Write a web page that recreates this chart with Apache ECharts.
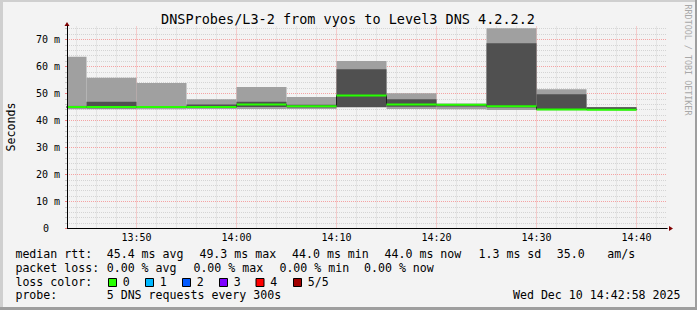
<!DOCTYPE html>
<html><head><meta charset="utf-8">
<script src="https://cdn.jsdelivr.net/npm/echarts@6/dist/echarts.min.js"></script>
<style>html,body{margin:0;padding:0;background:#f3f3f3}#c{width:697px;height:310px}</style>
</head><body><div id="c"></div>
<script>
// ---------------- data ----------------
const chartTitle = 'DNSProbes/L3-2 from vyos to Level3 DNS 4.2.2.2';
const yAxisName = 'Seconds';
const watermark = 'RRDTOOL / TOBI OETIKER';
const viewStart = '13:43:03';
const viewEnd = '14:43:03';
const stepMinutes = 5;
const barEnds = ['13:45','13:50','13:55','14:00','14:05','14:10','14:15','14:20','14:25','14:30','14:35','14:40'];
const pingMin = [44.2, 44.2, 44.2, 44.3, 44.3, 44.3, 44.8, 44.3, 44.2, 43.9, 43.8, 43.8];
const ping2   = [44.6, 44.5, 44.6, 44.7, 45.0, 44.8, 45.0, 45.1, 45.2, 44.8, 43.9, 43.9];
const median  = [45.0, 45.0, 45.0, 45.0, 45.9, 45.3, 49.3, 45.9, 45.8, 45.3, 44.1, 44.0];
const ping4   = [45.4, 46.9, 45.4, 45.9, 46.9, 45.8, 59.0, 47.9, 46.0, 68.6, 49.7, 44.9];
const pingMax = [63.6, 55.8, 53.9, 47.9, 52.4, 48.7, 62.0, 50.1, 46.3, 74.2, 51.6, 45.0];
const xTickLabels = ['13:50','14:00','14:10','14:20','14:30','14:40'];
const yTickValues = [0, 10, 20, 30, 40, 50, 60, 70];
const yMax = 75;
const rttLabel = 'median rtt:';
const rttStats = ['45.4 ms avg','49.3 ms max','44.0 ms min','44.0 ms now','1.3 ms sd','35.0','am/s'];
const lossLabel = 'packet loss:';
const lossStats = ['0.00 % avg','0.00 % max','0.00 % min','0.00 % now'];
const lossColorLabel = 'loss color:';
const lossNames = ['0','1','2','3','4','5/5'];
const lossColors = ['#26ff00','#00b8ff','#0059ff','#7e00ff','#ff0000','#a10000'];
const probeLabel = 'probe:';
const probeText = '5 DNS requests every 300s';
const dateText = 'Wed Dec 10 14:42:58 2025';

// ---------------- layout / style ----------------
const MONO = "'DejaVu Sans Mono', monospace";
const BG = '#f3f3f3';
const rttX = [106.7, 199.4, 292.0, 384.5, 478.5, 556.7, 607.2];
const lossX = [106.7, 193.4, 279.4, 364.0];
const boxX = [108.5, 145.5, 182.5, 219.5, 256.0, 293.5];
const rowY = [254.3, 267.7, 281.7, 295.3];

const toMin = s => { const p = s.split(':').map(Number); return (p[0]-13)*60 + p[1] + (p[2]||0)/60; };
const ends = barEnds.map(toMin);
const starts = ends.map(e => e - stepMinutes);
const X0 = toMin(viewStart), X1 = toMin(viewEnd);
const xTickMinutes = xTickLabels.map(toMin);
const lightData = ends.map((e,i) => [starts[i], e, pingMin[i], pingMax[i]]);
const darkData = ends.map((e,i) => [starts[i], e, ping2[i], ping4[i]]);
const medBand = ends.map((e,i) => [starts[i], e, median[i]]);
const medLine = [[starts[0], median[0]]].concat(ends.map((e,i) => [e, median[i]]));

const xMinor = [], xMajor = [], yMinor = [], yMajor = [];
for (let v = Math.ceil(X0/2)*2; v < X1; v += 2) (v % 10 === 0 ? xMajor : xMinor).push(v);
for (let v = 2; v < yMax; v += 2) (v % 10 === 0 ? yMajor : yMinor).push(v);

function rectItem(params, api) {
  const a = api.coord([api.value(0), api.value(3)]);
  const b = api.coord([api.value(1), api.value(2)]);
  const cs = params.coordSys;
  const shape = echarts.graphic.clipRectByRect(
    {x: a[0], y: a[1], width: b[0]-a[0], height: b[1]-a[1]},
    {x: cs.x, y: cs.y, width: cs.width, height: cs.height});
  return shape && {type: 'rect', shape: shape, style: {fill: api.visual('color')}};
}
function bandItem(params, api) {
  const a = api.coord([api.value(0), api.value(2)]);
  const b = api.coord([api.value(1), api.value(2)]);
  const cs = params.coordSys;
  const shape = echarts.graphic.clipRectByRect(
    {x: a[0], y: a[1]-1, width: b[0]-a[0], height: 2},
    {x: cs.x, y: cs.y, width: cs.width, height: cs.height});
  return shape && {type: 'rect', shape: shape, style: {fill: api.visual('color')}};
}
function gridLines(xs, ys, color, z) {
  return {
    type: 'line', data: [], z: z, zlevel: 0, silent: true,
    markLine: {
      silent: true, symbol: 'none', animation: false, label: {show: false}, z: z,
      lineStyle: {color: color, width: 1, type: [1, 1]},
      emphasis: {disabled: true},
      data: xs.map(v => ({xAxis: v})).concat(ys.map(v => ({yAxis: v})))
    }
  };
}
const txt = (text, x, y, extra) => ({
  type: 'text', x: x, y: y, silent: true, z: 100,
  style: Object.assign({text: text, fontFamily: MONO, fontSize: 11.6, fill: '#000', align: 'left', verticalAlign: 'middle'}, extra || {})
});

const graphics = [
  {type: 'rect', shape: {x: 0, y: 0, width: 697, height: 2}, style: {fill: '#cfcfcf'}, silent: true},
  {type: 'rect', shape: {x: 0, y: 0, width: 3, height: 310}, style: {fill: '#cfcfcf'}, silent: true},
  {type: 'rect', shape: {x: 695, y: 0, width: 2, height: 310}, style: {fill: '#9e9e9e'}, silent: true},
  {type: 'rect', shape: {x: 0, y: 307, width: 697, height: 3}, style: {fill: '#9e9e9e'}, silent: true},
  txt(chartTitle, 348, 19, {fontSize: 13.5, align: 'center'}),
  Object.assign(txt(yAxisName, 10.8, 127, {align: 'center'}), {rotation: Math.PI/2}),
  Object.assign(txt(watermark, 688, 60, {align: 'center', fontSize: 8.4, fill: '#a8a8a8'}), {rotation: -Math.PI/2}),
  txt(rttLabel, 15.4, rowY[0]),
  txt(lossLabel, 15.4, rowY[1]),
  txt(lossColorLabel, 15.4, rowY[2]),
  txt(probeLabel, 15.4, rowY[3]),
  txt(probeText, 106.7, rowY[3]),
  txt(dateText, 680.5, rowY[3], {align: 'right'})
];
rttStats.forEach((s, i) => graphics.push(txt(s, rttX[i], rowY[0])));
lossStats.forEach((s, i) => graphics.push(txt(s, lossX[i], rowY[1])));
lossNames.forEach((s, i) => {
  graphics.push({type: 'rect', silent: true, z: 100, shape: {x: boxX[i], y: 278.5, width: 8, height: 8},
    style: {fill: lossColors[i], stroke: '#000', lineWidth: 1}});
  graphics.push(txt(s, boxX[i] + 14.3, rowY[2]));
});

const chart = echarts.init(document.getElementById('c'), null, {renderer: 'svg', width: 697, height: 310});
chart.setOption({
  animation: false,
  backgroundColor: BG,
  grid: {left: 67, top: 26, width: 600, height: 202.5, containLabel: false},
  xAxis: [
    {type: 'value', position: 'bottom', min: X0, max: X1, z: 40,
     axisLine: {show: true, onZero: false, lineStyle: {color: '#000', width: 1}},
     axisTick: {show: false}, splitLine: {show: false},
     axisLabel: {customValues: xTickMinutes, margin: 4, fontFamily: MONO, fontSize: 10, color: '#000',
       formatter: v => { const i = xTickMinutes.findIndex(m => Math.abs(m - v) < 1e-6); return i >= 0 ? xTickLabels[i] : ''; }}},
    {type: 'value', position: 'bottom', min: X0, max: X1, z: 39,
     axisLine: {show: true, onZero: false, symbol: ['none', 'triangle'], symbolSize: [5, 4], symbolOffset: [0, 4], lineStyle: {color: '#800000', width: 1}},
     axisTick: {show: false}, splitLine: {show: false}, axisLabel: {show: false}}
  ],
  yAxis: [
    {type: 'value', position: 'left', min: 0, max: yMax, z: 40,
     axisLine: {show: true, onZero: false, lineStyle: {color: '#000', width: 1}},
     axisTick: {show: true, customValues: yTickValues, length: 2, lineStyle: {color: '#f08080'}},
     splitLine: {show: false},
     axisLabel: {customValues: yTickValues, margin: 7, fontFamily: MONO, fontSize: 10, color: '#000',
       formatter: v => v === 0 ? '{z|0}' : v + ' m',
       rich: {z: {fontFamily: MONO, fontSize: 10, color: '#000', padding: [0, 11, 0, 0]}}}},
    {type: 'value', position: 'left', min: 0, max: yMax, z: 39,
     axisLine: {show: true, onZero: false, symbol: ['none', 'triangle'], symbolSize: [5, 4], symbolOffset: [0, 2], lineStyle: {color: '#800000', width: 1}},
     axisTick: {show: true, customValues: yMinor, length: 2, lineStyle: {color: '#c8c8c8'}},
     splitLine: {show: false}, axisLabel: {show: false}}
  ],
  series: [
    gridLines(xMinor, yMinor, '#d4d4d4', 1),
    gridLines(xMajor, yMajor, '#f5a3a3', 2),
    {type: 'custom', name: 'outer', data: lightData, renderItem: rectItem, z: 20, silent: true,
     encode: {x: [0, 1], y: [2, 3]}, itemStyle: {color: '#a0a0a0'}},
    {type: 'custom', name: 'inner', data: darkData, renderItem: rectItem, z: 21, silent: true,
     encode: {x: [0, 1], y: [2, 3]}, itemStyle: {color: '#505050'}},
    {type: 'line', name: 'median', data: medLine, step: 'start', symbol: 'none', z: 22, silent: true,
     lineStyle: {color: '#202020', width: 1}},
    {type: 'custom', name: 'loss', data: medBand, renderItem: bandItem, z: 23, silent: true,
     encode: {x: [0, 1], y: 2}, itemStyle: {color: lossColors[0]}}
  ],
  graphic: graphics
});
</script></body></html>
